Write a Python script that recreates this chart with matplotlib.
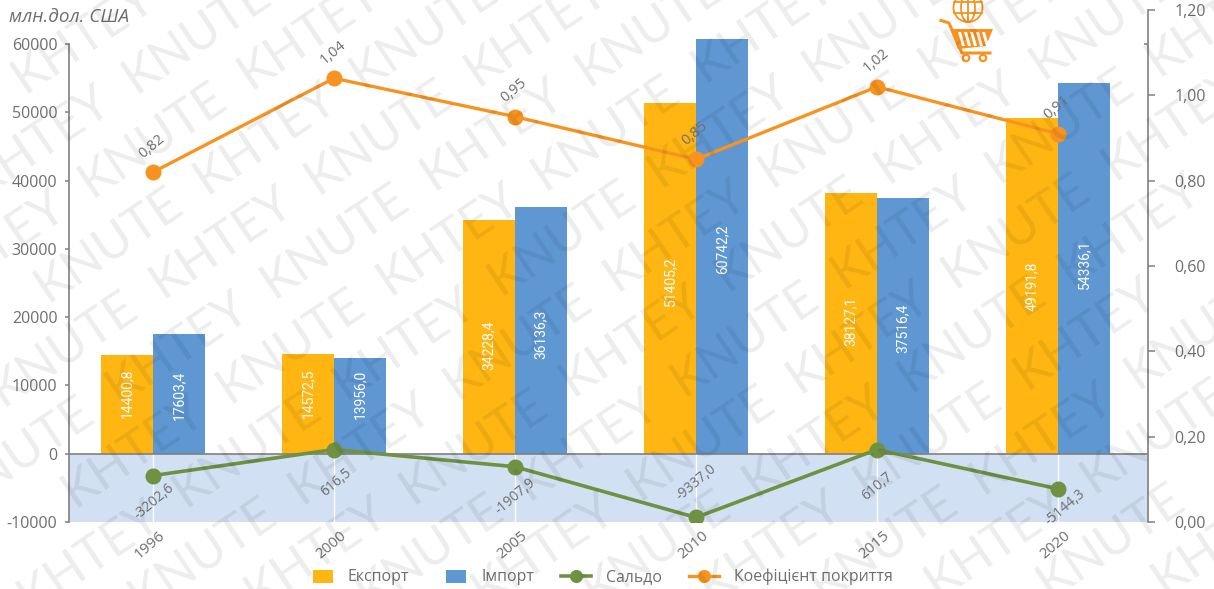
import math
import matplotlib
matplotlib.use("Agg")
import matplotlib.pyplot as plt
from matplotlib.lines import Line2D
from matplotlib.patches import Rectangle, Circle, Ellipse, Polygon
from matplotlib.transforms import Affine2D
from matplotlib.legend_handler import HandlerPatch, update_from_first_child

years = ["1996", "2000", "2005", "2010", "2015", "2020"]
export = [14400.8, 14572.5, 34228.4, 51405.2, 38127.1, 49191.8]
imports = [17603.4, 13956.0, 36136.3, 60742.2, 37516.4, 54336.1]
saldo = [-3202.6, 616.5, -1907.9, -9337.0, 610.7, -5144.3]
coverage = [0.82, 1.04, 0.95, 0.85, 1.02, 0.91]

W, H = 1214, 589
YEL, BLU, GRN, ORG = "#FFB612", "#5F97D3", "#6F9242", "#F7931E"
GRY, TXT = "#808080", "#6E6E6E"
plt.rcParams["font.family"] = ["Open Sans", "DejaVu Sans"]

fig = plt.figure(figsize=(W / 100, H / 100), dpi=100, facecolor="white")
L, R, T, B = 68.5, 1148, 10, 522
ax = fig.add_axes([L / W, (H - B) / H, (R - L) / W, (B - T) / H])
ax2 = ax.twinx()
ax.set_zorder(1); ax2.set_zorder(2)
ax2.patch.set_visible(False)

xs = list(range(len(years)))
bw = 0.287
ax.set_xlim((L - 153) / 181, (R - 153) / 181)
ax.set_ylim(-10000, 64980)
ax2.set_ylim(0, 1.2)

ax.axhspan(-10000, 0, color="#D2E0F3", lw=0, zorder=0)
ax.vlines(xs, -10000, 0, color="white", lw=1, zorder=0.5)
b1 = ax.bar([x - bw / 2 for x in xs], export, bw, color=YEL, zorder=2, label="Експорт")
b2 = ax.bar([x + bw / 2 for x in xs], imports, bw, color=BLU, zorder=2, label="Імпорт")
ax.axhline(0, color=GRY, lw=1.2, zorder=3)
l1, = ax.plot(xs, saldo, color=GRN, lw=2.6, marker="o", ms=10.5, zorder=4, label="Сальдо")
l2, = ax2.plot(xs, coverage, color=ORG, lw=2.4, marker="o", ms=10.5, zorder=4,
               label="Коефіцієнт покриття")

# layout of the value labels (pixel shifts)
bar_shift_e = [11, 11, -8, -3, 2, -1]
bar_shift_i = [-2, 12, -4, -3, -3, 4]
for x, v, s in zip(xs, export, bar_shift_e):
    ax.annotate(f"{v:.1f}".replace(".", ","), (x - bw / 2, v / 2), xytext=(0, s),
                textcoords="offset pixels", rotation=90, color="white", fontsize=10,
                family="Roboto", ha="center", va="center", zorder=5)
for x, v, s in zip(xs, imports, bar_shift_i):
    ax.annotate(f"{v:.1f}".replace(".", ","), (x + bw / 2, v / 2), xytext=(0, s),
                textcoords="offset pixels", rotation=90, color="white", fontsize=10,
                family="Roboto", ha="center", va="center", zorder=5)
saldo_off = [(1, -26), (2, -33), (0, -30), (0, 35), (0, -37), (7, -19)]
for x, v, o in zip(xs, saldo, saldo_off):
    ax.annotate(f"{v:.1f}".replace(".", ","), (x, v), xytext=o, textcoords="offset pixels",
                rotation=40, rotation_mode="anchor", color=TXT, fontsize=10,
                ha="center", va="center", zorder=6)
for x, v in zip(xs, coverage):
    ax2.annotate(f"{v:.2f}".replace(".", ","), (x, v), xytext=(-1, 26), textcoords="offset pixels",
                 rotation=40, rotation_mode="anchor", color=TXT, fontsize=10.5,
                 ha="center", va="center", zorder=6)

for s in ax.spines.values():
    s.set_visible(False)
for s in ax2.spines.values():
    s.set_visible(False)
ax.spines["left"].set_visible(True)
ax.spines["left"].set_color(GRY); ax.spines["left"].set_linewidth(1.2)
ax.spines["left"].set_bounds(-10000, 60000)
ax2.spines["right"].set_visible(True)
ax2.spines["right"].set_color(GRY); ax2.spines["right"].set_linewidth(1.2)

ax.set_yticks(range(-10000, 60001, 10000))
ax.set_yticklabels([str(v) for v in range(-10000, 60001, 10000)])
ax.tick_params(axis="y", length=3, width=1.1, color=GRY, labelcolor=TXT, labelsize=11.5, pad=5)
ax2.set_yticks([0, .2, .4, .6, .8, 1.0, 1.2])
ax2.set_yticklabels(["0,00", "0,20", "0,40", "0,60", "0,80", "1,00", "1,20"])
ax2.set_yticks([1.12], minor=True)
ax2.tick_params(axis="y", which="major", length=5, width=1.1, color=GRY, labelcolor=TXT, labelsize=11.5, pad=14)
ax2.tick_params(axis="y", which="minor", length=3, width=1.1, color=GRY, direction="in")
ax.set_xticks(xs)
ax.set_xticklabels([])
ax.tick_params(axis="x", length=0)
for x, y in zip(xs, years):
    ax.annotate(y, (x, 0), xycoords=("data", "axes fraction"), xytext=(-3, -23),
                textcoords="offset pixels", rotation=40, rotation_mode="anchor",
                color=TXT, fontsize=11, ha="center", va="center", annotation_clip=False)

fig.text(9 / W, 1 - 17 / H, "млн.дол. США", style="italic", color=TXT, fontsize=13.6,
         ha="left", va="center")


def short_patch(legend, orig_handle, xdescent, ydescent, width, height, fontsize):
    return Rectangle((width - 14.4 - xdescent, -ydescent - 1), 14.4, 9.4)


bar_handler = HandlerPatch(patch_func=short_patch, update_func=update_from_first_child)
leg = fig.legend(handles=[b1, b2, l1, l2], ncol=4, loc="center", frameon=False,
                 bbox_to_anchor=(598 / W, 1 - 577 / H), fontsize=11.4, labelcolor=TXT,
                 handlelength=1.9, handletextpad=0.95, columnspacing=1.7, markerscale=0.8,
                 handler_map={b1: bar_handler, b2: bar_handler})

# basket-and-globe icon, in image pixels
px = Affine2D().scale(1, -1).translate(0, H)
def add(a):
    a.set_transform(px); a.set_zorder(10); fig.add_artist(a)
gk = dict(fill=False, ec=ORG, lw=1.3)
add(Circle((968, 7.5), 14.5, **gk))
add(Ellipse((968, 7.5), 14, 29, **gk))
for a in [[(968, -7), (968, 22)], [(954, 2), (982, 2)], [(954, 13), (982, 13)]]:
    add(Line2D(*zip(*a), color=ORG, lw=1.3))
add(Line2D([941, 949, 962, 990], [20.5, 23, 53, 53], color=ORG, lw=2.2))
add(Polygon([(950, 29), (993, 29), (986, 46), (958, 49)], fc=ORG, ec="none"))
for d in range(0, 5):
    x0 = 958 + d * 6
    add(Polygon([(x0, 32), (x0 + 3, 32), (x0 + 7, 46), (x0 + 4, 46)], fc="white", ec="none"))
add(Circle((966, 58), 3.2, fc="white", ec=ORG, lw=1.6))
add(Circle((983, 58), 3.2, fc="white", ec=ORG, lw=1.6))

# watermark
ang = 34
c, s = math.cos(math.radians(ang)), math.sin(math.radians(ang))
row_gap, word_gap, row_shift = 62, 190, 95
for r in range(-14, 15):
    for k in range(-10, 11):
        along = k * word_gap + r * row_shift
        across = r * row_gap
        xc = 335 + along * c - across * s
        yc = (H - 241) + along * s + across * c
        if -20 < xc < W + 20 and -15 < yc < H + 15:
            fig.text(xc / W, yc / H, "KNUTE" if k % 2 == 0 else "KHTEY", rotation=ang,
                     rotation_mode="anchor", fontsize=36, family="Lato",
                     color="black", alpha=0.075, ha="center", va="center", zorder=20)

fig.savefig("out.png", dpi=100)
